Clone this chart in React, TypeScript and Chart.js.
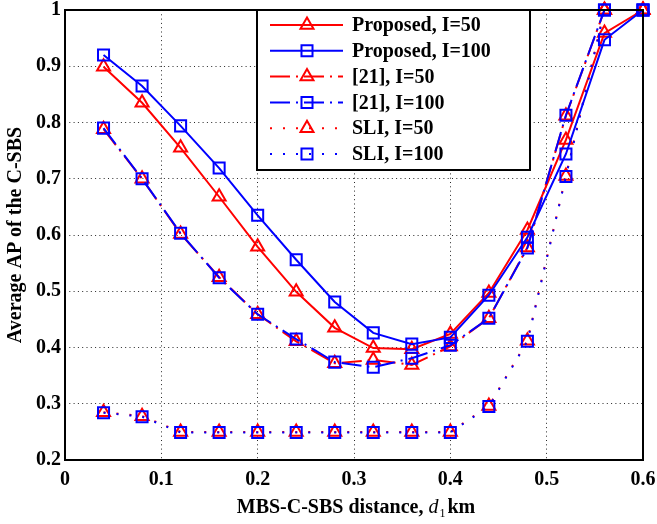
import React, { useEffect, useRef } from "react";
import { Chart, registerables } from "chart.js";

Chart.register(...registerables);

const xValues = [0.04, 0.08, 0.12, 0.16, 0.2, 0.24, 0.28, 0.32, 0.36, 0.4, 0.44, 0.48, 0.52, 0.56, 0.6];
const proposedI50 = [0.899, 0.835, 0.755, 0.668, 0.579, 0.499, 0.435, 0.399, 0.397, 0.424, 0.497, 0.609, 0.769, 0.959, 1.0];
const proposedI100 = [0.92, 0.865, 0.794, 0.719, 0.635, 0.556, 0.481, 0.426, 0.406, 0.418, 0.493, 0.596, 0.744, 0.947, 1.0];
const ref21I50 = [0.788, 0.7, 0.602, 0.525, 0.459, 0.411, 0.372, 0.378, 0.369, 0.402, 0.452, 0.578, 0.812, 1.0, 1.0];
const ref21I100 = [0.79, 0.7, 0.603, 0.524, 0.459, 0.415, 0.374, 0.365, 0.381, 0.404, 0.452, 0.577, 0.813, 1.0, 1.0];
const sliI50 = [0.285, 0.278, 0.25, 0.25, 0.25, 0.25, 0.25, 0.25, 0.25, 0.25, 0.296, 0.412, 0.705, 1.0, 1.0];
const sliI100 = [0.284, 0.277, 0.249, 0.249, 0.249, 0.249, 0.249, 0.249, 0.249, 0.249, 0.295, 0.411, 0.704, 1.0, 1.0];

const seriesLabels = ["Proposed, I=50", "Proposed, I=100", "[21], I=50", "[21], I=100", "SLI, I=50", "SLI, I=100"];
const xTitle = ["MBS-C-SBS distance, ", "d", "1", "km"];
const yTitle = "Average AP of the C-SBS";

const RED = "#ff0000";
const BLUE = "#0000ff";
const SERIF = "'Liberation Serif', 'Times New Roman', serif";
const FS = 20;

function drawMarker(ctx: CanvasRenderingContext2D, style: string, x: number, y: number, r: number) {
  ctx.beginPath();
  if (style === "triangle") {
    const h = r;
    ctx.moveTo(x, y - h);
    ctx.lineTo(x + h * Math.sin(Math.PI / 3), y + h * 0.5);
    ctx.lineTo(x - h * Math.sin(Math.PI / 3), y + h * 0.5);
    ctx.closePath();
  } else {
    const s = r * Math.SQRT1_2;
    ctx.rect(x - s, y - s, 2 * s, 2 * s);
  }
  ctx.stroke();
}

const framePlugin = {
  id: "frameLegend",
  afterDraw(chart: any) {
    const { ctx, chartArea } = chart;
    const { left, top, right, bottom } = chartArea;
    ctx.save();
    ctx.setLineDash([]);
    ctx.strokeStyle = "#000";
    ctx.lineWidth = 2;
    ctx.strokeRect(left, top, right - left, bottom - top);

    // legend box
    const x0 = left + 192;
    const y0 = top;
    const w = 273;
    const h = 160;
    ctx.fillStyle = "#fff";
    ctx.fillRect(x0, y0, w, h);
    ctx.lineWidth = 2;
    ctx.strokeStyle = "#000";
    ctx.strokeRect(x0, y0, w, h);
    chart.data.datasets.forEach((ds: any, i: number) => {
      const y = y0 + 15 + i * 25.8;
      ctx.strokeStyle = ds.borderColor;
      ctx.lineWidth = ds.borderWidth;
      ctx.setLineDash(ds.borderDash || []);
      ctx.lineDashOffset = 0;
      ctx.beginPath();
      ctx.moveTo(x0 + 13, y);
      ctx.lineTo(x0 + 86, y);
      ctx.stroke();
      ctx.setLineDash([]);
      ctx.lineWidth = ds.pointBorderWidth;
      drawMarker(ctx, ds.pointStyle, x0 + 50, y, ds.pointRadius);
      ctx.fillStyle = "#000";
      ctx.font = `bold ${FS}px ${SERIF}`;
      ctx.textBaseline = "middle";
      ctx.textAlign = "left";
      ctx.fillText(ds.label, x0 + 95, y + 1);
    });

    // x axis title with italic d and subscript 1
    const fonts = [`bold ${FS}px ${SERIF}`, `italic ${FS}px ${SERIF}`, `12px ${SERIF}`, `bold ${FS}px ${SERIF}`];
    const offs = [0, 0, 4, 0];
    const gaps = [0, 1, 2, 0];
    let total = 0;
    const widths: number[] = [];
    xTitle.forEach((t, i) => {
      ctx.font = fonts[i];
      const wd = ctx.measureText(t).width + gaps[i];
      widths.push(wd);
      total += wd;
    });
    let cx = (left + right) / 2 - total / 2 + 2;
    const by = 513;
    ctx.textBaseline = "alphabetic";
    ctx.fillStyle = "#000";
    xTitle.forEach((t, i) => {
      ctx.font = fonts[i];
      ctx.fillText(t, cx, by + offs[i]);
      cx += widths[i];
    });
    ctx.restore();
  },
};

function makeDataset(label: string, values: number[], color: string, style: string, dash: number[]) {
  return {
    label,
    data: xValues.map((x, i) => ({ x, y: values[i] })),
    borderColor: color,
    backgroundColor: "rgba(0,0,0,0)",
    borderWidth: 2,
    borderDash: dash,
    borderCapStyle: "butt",
    pointStyle: style,
    pointRadius: style === "triangle" ? 7.5 : 7.8,
    pointBorderWidth: 2,
    pointBorderColor: color,
    pointBackgroundColor: "rgba(0,0,0,0)",
    tension: 0,
    clip: false,
    order: color === BLUE ? 0 : 1,
  };
}

export default function App() {
  const canvasRef = useRef<HTMLCanvasElement | null>(null);

  useEffect(() => {
    const canvas = canvasRef.current;
    if (!canvas) return;
    const dashDot = [20, 6, 2, 6];
    const dotted = [2, 11];
    const chart = new Chart(canvas, {
      type: "line",
      data: {
        datasets: [
          makeDataset(seriesLabels[0], proposedI50, RED, "triangle", []),
          makeDataset(seriesLabels[1], proposedI100, BLUE, "rect", []),
          makeDataset(seriesLabels[2], ref21I50, RED, "triangle", dashDot),
          makeDataset(seriesLabels[3], ref21I100, BLUE, "rect", dashDot),
          makeDataset(seriesLabels[4], sliI50, RED, "triangle", dotted),
          makeDataset(seriesLabels[5], sliI100, BLUE, "rect", dotted),
        ] as any,
      },
      options: {
        animation: false,
        responsive: true,
        maintainAspectRatio: false,
        layout: { padding: { left: 0, top: 10, right: 14, bottom: 0 } },
        plugins: {
          legend: { display: false },
          tooltip: { enabled: false },
        },
        scales: {
          x: {
            type: "linear",
            min: 0,
            max: 0.6,
            afterFit: (s: any) => {
              s.height = 64;
              s.paddingRight = 0;
              s.paddingLeft = 0;
            },
            ticks: {
              stepSize: 0.1,
              color: "#000",
              padding: 8,
              maxRotation: 0,
              font: { family: SERIF, size: FS, weight: "bold" },
              callback: (v: any) => String(Number(Number(v).toFixed(1))),
            },
            grid: { color: "rgba(0,0,0,0.85)", lineWidth: 1, drawTicks: false },
            border: { display: false, dash: [1, 3.3] },
          },
          y: {
            min: 0.2,
            max: 1,
            afterFit: (s: any) => {
              s.width = 65;
              s.paddingTop = 0;
              s.paddingBottom = 0;
            },
            ticks: {
              stepSize: 0.1,
              color: "#000",
              padding: 4,
              font: { family: SERIF, size: FS, weight: "bold" },
              callback: (v: any) => String(Number(Number(v).toFixed(1))),
            },
            title: {
              display: true,
              text: yTitle,
              color: "#000",
              font: { family: SERIF, size: FS, weight: "bold" },
              padding: { top: 4, bottom: 0 },
            },
            grid: { color: "rgba(0,0,0,0.85)", lineWidth: 1, drawTicks: false },
            border: { display: false, dash: [1, 3.3] },
          },
        },
      } as any,
      plugins: [framePlugin],
    });
    return () => chart.destroy();
  }, []);

  return (
    <div style={{ position: "absolute", left: 0, top: 0, width: 657, height: 524, background: "#fff" }}>
      <canvas ref={canvasRef} />
    </div>
  );
}
